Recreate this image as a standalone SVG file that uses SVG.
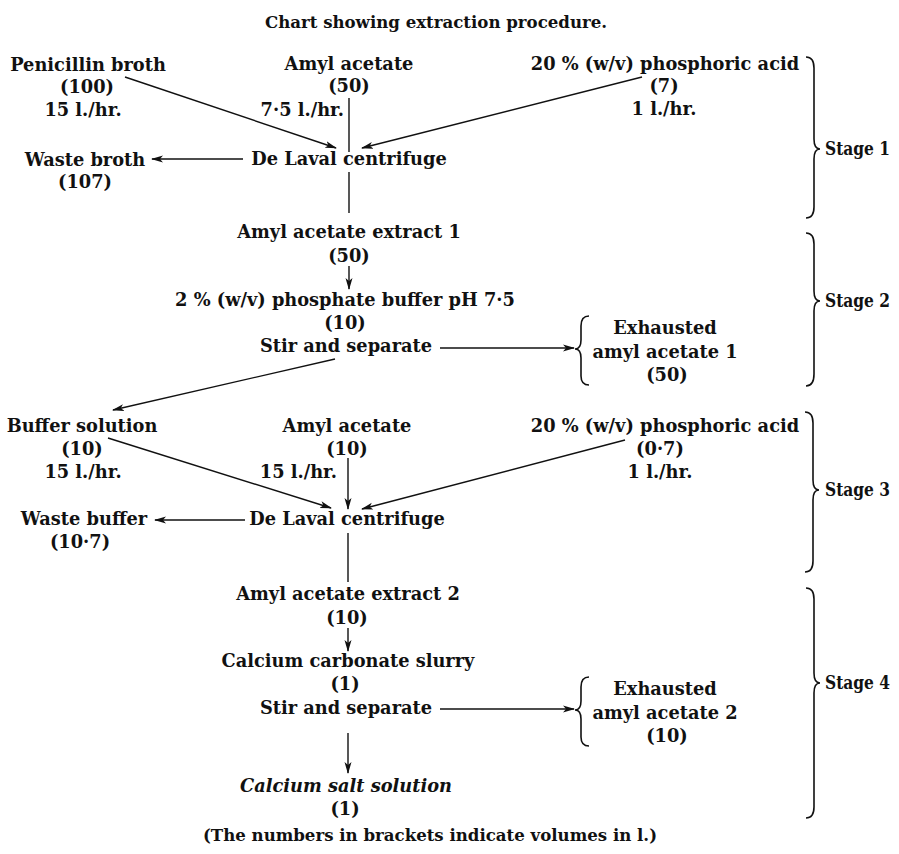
<svg xmlns="http://www.w3.org/2000/svg" width="899" height="854" viewBox="0 0 899 854">
<style>
text{font-family:"DejaVu Serif","Liberation Serif",serif;font-weight:bold;font-size:17.8px;fill:#111;text-anchor:middle}
.l{text-anchor:start}
.e{text-anchor:end}
.i{font-style:italic}
.s{font-size:16.6px}
.c{stroke:#111;stroke-width:1.4;fill:none}
.b{stroke:#111;stroke-width:1.6;fill:none}
</style>
<defs>
<marker id="ah" viewBox="0 0 12 8" refX="11" refY="4" markerWidth="12" markerHeight="8" markerUnits="userSpaceOnUse" orient="auto">
<path d="M0,0.5 L12,4 L0,7.5 L3,4 Z" fill="#111"/>
</marker>
</defs>
<rect width="899" height="854" fill="#fff"/>
<text class="s" x="436" y="28">Chart showing extraction procedure.</text>

<g id="stage1">
<g id="penicillin"><text x="88" y="71">Penicillin broth</text><text x="87" y="93">(100)</text><text x="83" y="116">15 l./hr.</text></g>
<g id="amyl1"><text x="349" y="70">Amyl acetate</text><text x="349" y="92">(50)</text><text class="e" x="344" y="116">7·5 l./hr.</text></g>
<g id="acid1"><text x="665" y="70">20 % (w/v) phosphoric acid</text><text x="664" y="92">(7)</text><text x="664" y="115">1 l./hr.</text></g>
<g id="centrifuge1"><text x="349" y="165">De Laval centrifuge</text></g>
<g id="waste1"><text x="85" y="166">Waste broth</text><text x="85" y="188">(107)</text></g>
</g>

<g id="stage2">
<g id="extract1"><text x="349" y="238">Amyl acetate extract 1</text><text x="349" y="262">(50)</text></g>
<g id="phosphate"><text x="345" y="306">2 % (w/v) phosphate buffer pH 7·5</text><text x="345" y="329">(10)</text><text x="346" y="352">Stir and separate</text></g>
<g id="exhausted1"><text x="665" y="334">Exhausted</text><text x="665" y="358">amyl acetate 1</text><text x="667" y="381">(50)</text>
<path class="b" d="M589,316 Q581,316 581,326 L581,340 Q581,349 575,349 Q581,349 581,358 L581,376 Q581,385 589,385"/></g>
</g>

<g id="stage3">
<g id="buffer"><text x="82" y="432">Buffer solution</text><text x="82" y="455">(10)</text><text x="83" y="478">15 l./hr.</text></g>
<g id="amyl2"><text x="347" y="432">Amyl acetate</text><text x="347" y="455">(10)</text><text class="e" x="337" y="478">15 l./hr.</text></g>
<g id="acid2"><text x="665" y="432">20 % (w/v) phosphoric acid</text><text x="660" y="455">(0·7)</text><text x="660" y="478">1 l./hr.</text></g>
<g id="centrifuge2"><text x="347" y="525">De Laval centrifuge</text></g>
<g id="waste2"><text x="84" y="525">Waste buffer</text><text x="80" y="548">(10·7)</text></g>
</g>

<g id="stage4">
<g id="extract2"><text x="348" y="600">Amyl acetate extract 2</text><text x="347" y="624">(10)</text></g>
<g id="slurry"><text x="348" y="667">Calcium carbonate slurry</text><text x="345" y="690">(1)</text><text x="346" y="714">Stir and separate</text></g>
<g id="exhausted2"><text x="665" y="695">Exhausted</text><text x="665" y="719">amyl acetate 2</text><text x="667" y="742">(10)</text>
<path class="b" d="M589,677 Q581,677 581,687 L581,701 Q581,710 575,710 Q581,710 581,719 L581,737 Q581,746 589,746"/></g>
<g id="calcium"><text class="i" x="346" y="792">Calcium salt solution</text><text x="345" y="815">(1)</text></g>
</g>

<g id="stagebraces">
<path class="b" d="M806,57 Q814,57 814,68 L814,139 Q814,149 820,149 Q814,149 814,159 L814,207 Q814,218 806,218"/>
<text class="l" x="825" y="155" textLength="65" lengthAdjust="spacingAndGlyphs">Stage 1</text>
<path class="b" d="M806,233 Q814,233 814,244 L814,291 Q814,301 820,301 Q814,301 814,311 L814,374 Q814,386 806,386"/>
<text class="l" x="825" y="307" textLength="65" lengthAdjust="spacingAndGlyphs">Stage 2</text>
<path class="b" d="M805,412 Q813,412 813,423 L813,480 Q813,490 819,490 Q813,490 813,500 L813,561 Q813,572 805,572"/>
<text class="l" x="825" y="496" textLength="65" lengthAdjust="spacingAndGlyphs">Stage 3</text>
<path class="b" d="M806,588 Q814,588 814,599 L814,673 Q814,683 820,683 Q814,683 814,693 L814,807 Q814,818 806,818"/>
<text class="l" x="825" y="689" textLength="65" lengthAdjust="spacingAndGlyphs">Stage 4</text>
</g>

<g id="connectors">
<line class="c" x1="125" y1="77" x2="336" y2="148" marker-end="url(#ah)"/>
<line class="c" x1="642" y1="77" x2="362" y2="148" marker-end="url(#ah)"/>
<line class="c" x1="349" y1="98" x2="349" y2="152"/>
<line class="c" x1="243" y1="159" x2="152" y2="159" marker-end="url(#ah)"/>
<line class="c" x1="349" y1="172" x2="349" y2="213"/>
<line class="c" x1="349" y1="266" x2="349" y2="289" marker-end="url(#ah)"/>
<line class="c" x1="440" y1="348" x2="574" y2="348" marker-end="url(#ah)"/>
<line class="c" x1="335" y1="359" x2="113" y2="410" marker-end="url(#ah)"/>
<line class="c" x1="108" y1="438" x2="331" y2="508" marker-end="url(#ah)"/>
<line class="c" x1="348" y1="458" x2="348" y2="509" marker-end="url(#ah)"/>
<line class="c" x1="625" y1="440" x2="362" y2="509" marker-end="url(#ah)"/>
<line class="c" x1="245" y1="520" x2="155" y2="520" marker-end="url(#ah)"/>
<line class="c" x1="348" y1="533" x2="348" y2="582"/>
<line class="c" x1="348" y1="628" x2="348" y2="651" marker-end="url(#ah)"/>
<line class="c" x1="440" y1="709" x2="574" y2="709" marker-end="url(#ah)"/>
<line class="c" x1="348" y1="733" x2="348" y2="773" marker-end="url(#ah)"/>
</g>

<text class="s" x="430" y="841">(The numbers in brackets indicate volumes in l.)</text>
</svg>
